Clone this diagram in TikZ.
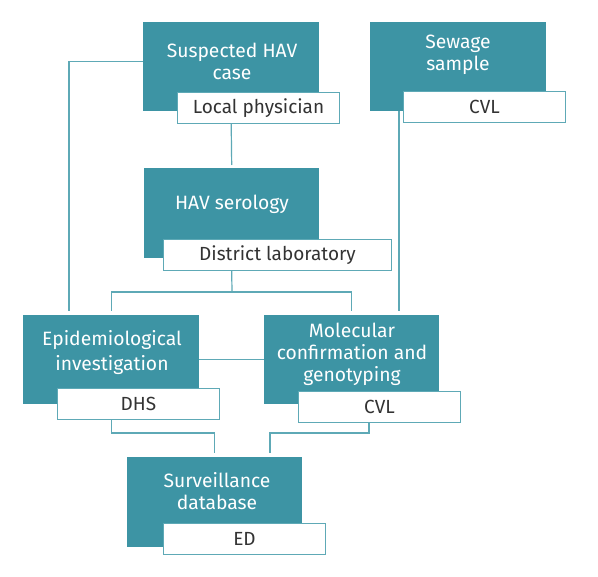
\documentclass[tikz,border=0pt]{standalone}
\usepackage{fontspec}
\setmainfont{Fira Sans}
\definecolor{teal1}{HTML}{3D94A4}
\definecolor{lineC}{HTML}{5EA9B6}
\definecolor{txtdark}{HTML}{333333}
\tikzset{
  tbox/.style={fill=teal1, draw=none, inner sep=0pt, anchor=north west},
  wbox/.style={fill=white, draw=lineC, line width=1pt, inner sep=0pt, anchor=north west,
     minimum width=162pt, minimum height=31pt, text=txtdark, font=\fontsize{19}{22}\selectfont},
  ttext/.style={text=white, align=center, inner sep=0pt, font=\fontsize{19.3}{22}\selectfont},
  conn/.style={draw=lineC, line width=1.2pt}
}
\begin{document}
\begin{tikzpicture}[x=1pt,y=-1pt]
\useasboundingbox[fill=white] (0,0) rectangle (598,577);
% teal boxes
\node[tbox, minimum width=176pt, minimum height=89pt] (sus) at (143,22) {};
\node[tbox, minimum width=175pt, minimum height=90pt] (ser) at (144,168) {};
\node[tbox, minimum width=176pt, minimum height=89pt] (sew) at (370,22) {};
\node[tbox, minimum width=176pt, minimum height=89pt] (epi) at (23,315) {};
\node[tbox, minimum width=175pt, minimum height=89pt] (mol) at (264,315) {};
\node[tbox, minimum width=175pt, minimum height=90pt] (surv) at (127,457) {};
% titles
\node[ttext] (sust) at (232,61) {Suspected HAV\\case};
\node[ttext] (sert) at (232,204) {HAV serology};
\node[ttext] (sewt) at (458,55) {Sewage\\sample};
\node[ttext, font=\fontsize{19.3}{25}\selectfont] (epit) at (112,353) {Epidemiological\\investigation};
\node[ttext] (molt) at (352,354) {Molecular\\confirmation and\\genotyping};
\node[ttext] (survt) at (217,491) {Surveillance\\database};
% white boxes
\node[wbox] (susw) at (177,92) {Local physician};
\node[wbox, minimum width=228pt] (serw) at (163,239) {District laboratory\hspace{14pt}};
\node[wbox] (seww) at (403,91) {CVL};
\node[wbox] (epiw) at (57,388) {DHS};
\node[wbox] (molw) at (298,391) {CVL};
\node[wbox] (survw) at (163,523) {ED};
% connector coordinates
\coordinate (epiL) at (69,311);
\coordinate (j1) at (232,292);
\coordinate (sewdrop) at (399,311);
\coordinate (j2) at (0,433);
\coordinate (m1) at (369,433);
\coordinate (s2) at (270,453);
% connectors
\draw[conn] ([yshift=5.5pt]sus.west) -| (epiL);
\draw[conn] (sus.south |- susw.south) -- ([yshift=3pt]ser.north);
\draw[conn] (ser.south |- serw.south) -- (j1);
\draw[conn] ([yshift=4pt]epi.north) |- (j1) -| ([yshift=4pt]mol.north);
\draw[conn] (sewdrop |- sew.south) -- (sewdrop);
\draw[conn] (epi.east) -- (mol.west);
\draw[conn] (epi.south |- epiw.south) -- (epi.south |- j2) -| ([yshift=4pt]surv.north);
\draw[conn] (m1 |- molw.south) -- (m1) -| (s2);
\end{tikzpicture}
\end{document}
